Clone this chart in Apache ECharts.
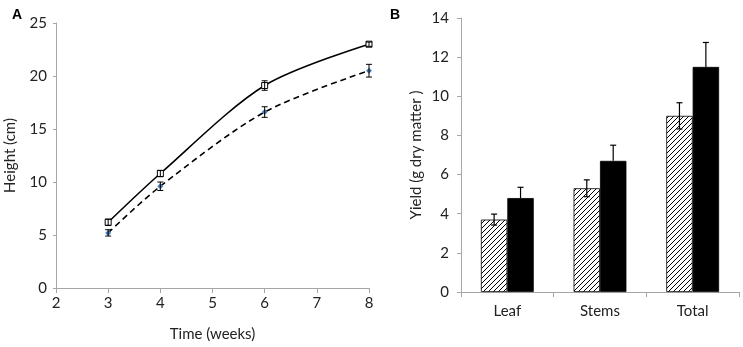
<!DOCTYPE html>
<html>
<head>
<meta charset="utf-8">
<script src="https://cdn.jsdelivr.net/npm/echarts@6/dist/echarts.min.js"></script>
<style>
html, body { margin: 0; padding: 0; background: #fff; }
#chart { width: 743px; height: 347px; }
</style>
</head>
<body>
<div id="chart"></div>
<script>
// panel A: height over time
var weeks = [3, 4, 6, 8];
var heightSolid = [6.2, 10.8, 19.1, 23.0];
var heightSolidErr = [0.3, 0.3, 0.45, 0.2];
var heightDashed = [5.2, 9.6, 16.6, 20.5];
var heightDashedErr = [0.3, 0.4, 0.5, 0.6];

// panel B: yield
var parts = ['Leaf', 'Stems', 'Total'];
var yieldHatched = [3.7, 5.3, 9.0];
var yieldHatchedErr = [0.28, 0.43, 0.67];
var yieldBlack = [4.8, 6.7, 11.5];
var yieldBlackErr = [0.55, 0.8, 1.25];

var font = 'Lato';
var fs = 15;
var axisGray = '#a6a6a6';
var textColor = '#222';
var catGap = 0.43;

// hatch tile
var tile = document.createElement('canvas');
tile.width = 5; tile.height = 5;
var tc = tile.getContext('2d');
tc.fillStyle = '#fff';
tc.fillRect(0, 0, 5, 5);
tc.strokeStyle = '#000';
tc.lineWidth = 1;
tc.beginPath();
tc.moveTo(-1, 6); tc.lineTo(6, -1);
tc.moveTo(-1, 1); tc.lineTo(1, -1);
tc.moveTo(4, 6); tc.lineTo(6, 4);
tc.stroke();

var chart = echarts.init(document.getElementById('chart'));

function errA(vals, errs) {
    return weeks.map(function (w, i) { return [w, vals[i], errs[i]]; });
}

function renderErrA(params, api) {
    var x = api.value(0), y = api.value(1), e = api.value(2);
    var hi = api.coord([x, y + e]);
    var lo = api.coord([x, y - e]);
    var cap = 3;
    var st = { stroke: '#000', lineWidth: 1 };
    return {
        type: 'group',
        children: [
            { type: 'line', shape: { x1: hi[0], y1: hi[1], x2: lo[0], y2: lo[1] }, style: st },
            { type: 'line', shape: { x1: hi[0] - cap, y1: hi[1], x2: hi[0] + cap, y2: hi[1] }, style: st },
            { type: 'line', shape: { x1: lo[0] - cap, y1: lo[1], x2: lo[0] + cap, y2: lo[1] }, style: st }
        ]
    };
}

function makeRenderErrB(side, upOnly) {
    return function (params, api) {
        var c = api.value(0), y = api.value(1), e = api.value(2);
        var band = api.size([1, 0])[0];
        var off = side * band * (1 - catGap) / 4;
        var hi = api.coord([c, y + e]);
        var lo = api.coord([c, upOnly ? y : y - e]);
        var x = hi[0] + off;
        var cap = 3;
        var st = { stroke: '#000', lineWidth: 1.2 };
        var kids = [
            { type: 'line', shape: { x1: x, y1: hi[1], x2: x, y2: lo[1] }, style: st },
            { type: 'line', shape: { x1: x - cap, y1: hi[1], x2: x + cap, y2: hi[1] }, style: st }
        ];
        if (!upOnly) {
            kids.push({ type: 'line', shape: { x1: x - cap, y1: lo[1], x2: x + cap, y2: lo[1] }, style: st });
        }
        return { type: 'group', children: kids };
    };
}

function errB(vals, errs) {
    return parts.map(function (p, i) { return [i, vals[i], errs[i]]; });
}

var option = {
    animation: false,
    backgroundColor: '#fff',
    textStyle: { fontFamily: font },
    title: [
        { text: 'A', left: 7, top: 3, textStyle: { fontSize: 14, fontWeight: 'bold', color: '#000', fontFamily: 'Liberation Sans' } },
        { text: 'B', left: 385, top: 3, textStyle: { fontSize: 14, fontWeight: 'bold', color: '#000', fontFamily: 'Liberation Sans' } }
    ],
    grid: [
        { left: 56, right: 374, top: 23, bottom: 59 },
        { left: 461, right: 4, top: 18, bottom: 55 }
    ],
    xAxis: [
        {
            gridIndex: 0, type: 'value', min: 2, max: 8, interval: 1,
            name: 'Time (weeks)', nameLocation: 'middle', nameGap: 39,
            nameTextStyle: { fontSize: fs, color: textColor },
            axisLine: { lineStyle: { color: axisGray } },
            axisTick: { show: true, length: 5, lineStyle: { color: axisGray } },
            axisLabel: { fontSize: fs, color: textColor, margin: 8 },
            splitLine: { show: false }
        },
        {
            gridIndex: 1, type: 'category', data: parts,
            axisLine: { lineStyle: { color: axisGray } },
            axisTick: { show: true, length: 5, lineStyle: { color: axisGray } },
            axisLabel: { fontSize: fs, color: textColor, margin: 12 }
        }
    ],
    yAxis: [
        {
            gridIndex: 0, type: 'value', min: 0, max: 25, interval: 5,
            name: 'Height (cm)', nameLocation: 'middle', nameGap: 38,
            nameTextStyle: { fontSize: fs, color: textColor },
            axisLine: { show: true, lineStyle: { color: axisGray } },
            axisTick: { show: true, length: 3, lineStyle: { color: axisGray } },
            axisLabel: { fontSize: fs, color: textColor, margin: 9 },
            splitLine: { show: false }
        },
        {
            gridIndex: 1, type: 'value', min: 0, max: 14, interval: 2,
            name: 'Yield (g dry matter )', nameLocation: 'middle', nameGap: 37,
            nameTextStyle: { fontSize: fs, color: textColor },
            axisLine: { show: true, lineStyle: { color: axisGray } },
            axisTick: { show: true, length: 4, lineStyle: { color: axisGray } },
            axisLabel: { fontSize: fs, color: textColor, margin: 12 },
            splitLine: { show: false }
        }
    ],
    series: [
        {
            name: 'solid', type: 'line', xAxisIndex: 0, yAxisIndex: 0,
            data: weeks.map(function (w, i) { return [w, heightSolid[i]]; }),
            smooth: 0.3,
            lineStyle: { color: '#000', width: 1.6 },
            symbol: 'rect', symbolSize: 6,
            itemStyle: { color: '#fff', borderColor: '#000', borderWidth: 1 },
            z: 3
        },
        {
            name: 'dashed', type: 'line', xAxisIndex: 0, yAxisIndex: 0,
            data: weeks.map(function (w, i) { return [w, heightDashed[i]]; }),
            smooth: 0.3,
            lineStyle: { color: '#000', width: 1.6, type: [6, 4] },
            symbol: 'diamond', symbolSize: 6,
            itemStyle: { color: '#4a7ebb', borderWidth: 0 },
            z: 3
        },
        {
            type: 'custom', xAxisIndex: 0, yAxisIndex: 0,
            data: errA(heightSolid, heightSolidErr), renderItem: renderErrA, z: 4
        },
        {
            type: 'custom', xAxisIndex: 0, yAxisIndex: 0,
            data: errA(heightDashed, heightDashedErr), renderItem: renderErrA, z: 4
        },
        {
            name: 'hatched', type: 'bar', xAxisIndex: 1, yAxisIndex: 1,
            data: yieldHatched,
            barGap: '0%', barCategoryGap: (catGap * 100) + '%',
            itemStyle: { color: { image: tile, repeat: 'repeat' }, borderColor: '#000', borderWidth: 0.8 }
        },
        {
            name: 'black', type: 'bar', xAxisIndex: 1, yAxisIndex: 1,
            data: yieldBlack,
            itemStyle: { color: '#000', borderColor: '#000', borderWidth: 0.8 }
        },
        {
            type: 'custom', xAxisIndex: 1, yAxisIndex: 1,
            data: errB(yieldHatched, yieldHatchedErr), renderItem: makeRenderErrB(-1, false), z: 4
        },
        {
            type: 'custom', xAxisIndex: 1, yAxisIndex: 1,
            data: errB(yieldBlack, yieldBlackErr), renderItem: makeRenderErrB(1, true), z: 4
        }
    ]
};

chart.setOption(option);
</script>
</body>
</html>
